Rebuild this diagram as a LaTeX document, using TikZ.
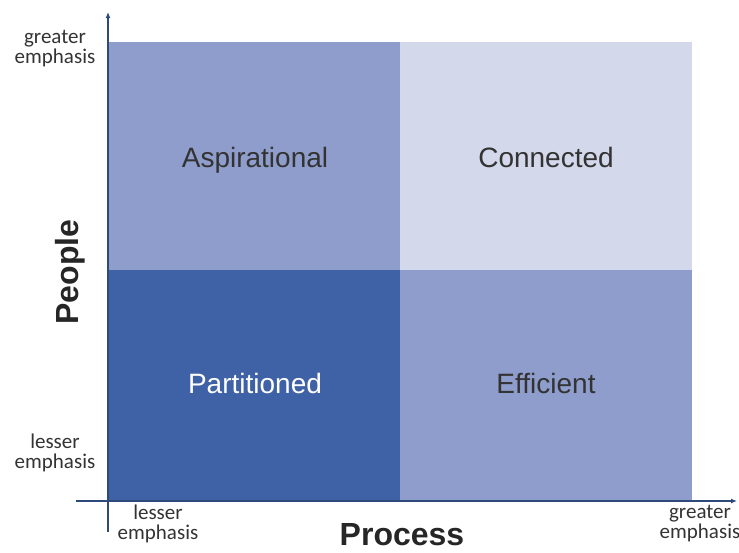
\documentclass[tikz,border=0pt]{standalone}
\usepackage{fontspec}
\setmainfont{Liberation Sans}
\newfontfamily\smallfont{Carlito}
\usetikzlibrary{arrows.meta}
\definecolor{qmid}{HTML}{8E9DCB}
\definecolor{qlight}{HTML}{D3D8EA}
\definecolor{qdark}{HTML}{3F62A6}
\definecolor{axiscol}{HTML}{2E4A7A}
\definecolor{txt}{HTML}{333333}
\tikzset{
  quad/.style={draw=none, minimum width=292pt, inner sep=0pt, anchor=north west},
  qlabel/.style={font=\fontsize{28}{30}\selectfont, text=txt, anchor=base},
  axlabel/.style={font=\bfseries\fontsize{32}{34}\selectfont, text=black!85},
  emph/.style={font=\smallfont\fontsize{21}{20}\selectfont, text=black!80, align=center},
  axis/.style={draw=axiscol, line width=1.4pt, -{Latex[length=6pt,width=5pt]}}
}
\begin{document}
\begin{tikzpicture}[x=1pt,y=-1pt]
\useasboundingbox (0,0) rectangle (739,552);
% quadrants
\node[quad, fill=qmid,   minimum height=228pt] (tl) at (108,42) {};
\node[quad, fill=qlight, minimum height=228pt] (tr) at (400,42) {};
\node[quad, fill=qdark,  minimum height=231pt] (bl) at (108,270) {};
\node[quad, fill=qmid,   minimum height=231pt] (br) at (400,270) {};
% quadrant names
\node[qlabel] (asp) at (255,167) {Aspirational};
\node[qlabel] (con) at (546,167) {Connected};
\node[qlabel, text=white] (par) at (255,393) {Partitioned};
\node[qlabel] (eff) at (546,393) {Efficient};
% axes
\coordinate (yb) at (108,532);
\coordinate (yt) at (108,12);
\coordinate (xl) at (76,501);
\coordinate (xr) at (737,501);
\draw[axis] (yb) -- (yt);
\draw[axis] (xl) -- (xr);
% axis titles
\node[axlabel, rotate=90] (people) at (70,272) {People};
\node[axlabel] (process) at (402,535) {Process};
% emphasis labels
\node[emph] (yg) at (55,49) {greater\\emphasis};
\node[emph] (yl) at (55,453) {lesser\\emphasis};
\node[emph] (xlow) at (158,524) {lesser\\emphasis};
\node[emph] (xhigh) at (700,524) {greater\\emphasis};
\end{tikzpicture}
\end{document}
